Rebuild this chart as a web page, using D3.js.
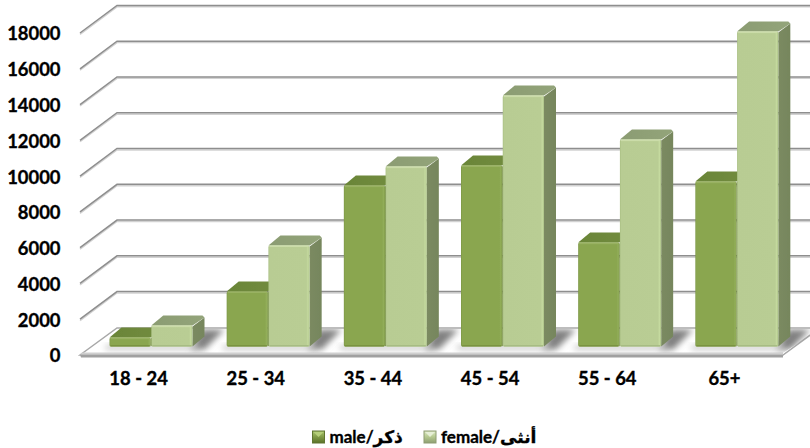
<!DOCTYPE html>
<html><head><meta charset="utf-8">
<script src="https://cdn.jsdelivr.net/npm/d3@7/dist/d3.min.js"></script>
<style>html,body{margin:0;background:#fff}svg{display:block}text{font-family:Lato,"DejaVu Sans",sans-serif;font-weight:700;fill:#000;stroke:#000;stroke-width:.35px}</style>
</head><body><svg id="c" width="810" height="448"></svg>
<script>
const categories = ["18 - 24","25 - 34","35 - 44","45 - 54","55 - 64","65+"];
const maleValues = [500,3080,9000,10120,5810,9220];
const femaleValues = [1170,5650,10060,14030,11570,17610];
const yTicks = [0,2000,4000,6000,8000,10000,12000,14000,16000,18000];
const seriesNames = ["male/ذكر","female/أنثى"];

const svg = d3.select("#c");
const defs = svg.append("defs");
const W = 810, H = 448;
const floorDX = 37, floorDY = 27;
const barOff = {y: 8.5};
const depth = {x: 12, y: 10};
const y = d3.scaleLinear().domain([0,18000]).range([355,33]);
const x = d3.scaleBand().domain(categories).range([80,783]);
const inner = d3.scaleBand().domain([0,1]).range([29,113]).padding(0.012);

function grad(id, stops, horiz){
  const g = defs.append("linearGradient").attr("id",id).attr("x1",0).attr("y1",0)
    .attr("x2",horiz?1:0).attr("y2",horiz?0:1);
  stops.forEach(s=>g.append("stop").attr("offset",s[0]).attr("stop-color",s[1]));
}
grad("mf",[[0,"#7c9646"],[.03,"#8aa650"],[.93,"#8aa650"],[.97,"#93af5a"],[1,"#7b9545"]],true);
grad("ff",[[0,"#a8be82"],[.03,"#b8cc93"],[.92,"#b9cd94"],[.96,"#c5da9f"],[1,"#a9bf85"]],true);
grad("mt",[[0,"#6a8538"],[1,"#728c3f"]],true);
grad("ft",[[0,"#8b9c72"],[1,"#93a47a"]],true);
grad("ms",[[0,"#688133"],[1,"#6f883d"]],true);
grad("fs",[[0,"#7b8a62"],[1,"#76865c"]],true);
grad("lm",[[0,"#a9c56c"],[.5,"#7f9a45"],[1,"#5b7228"]],false);
grad("lf",[[0,"#dbe8c2"],[.5,"#b4c88e"],[1,"#8e9e72"]],false);
defs.append("filter").attr("id","blur").attr("x","-40%").attr("y","-80%").attr("width","180%").attr("height","260%")
  .append("feGaussianBlur").attr("stdDeviation",3.4);
defs.append("filter").attr("id","soft").attr("x","-10%").attr("y","-10%").attr("width","120%").attr("height","120%")
  .append("feGaussianBlur").attr("stdDeviation",0.45);

const pts = a => a.map(p=>p.join(",")).join(" ");

// gridlines on wall
const gridVals = yTicks.filter(d=>d>0);
const grid = svg.append("g");
gridVals.forEach(v=>{
  const yy = y(v);
  const line = `M${x.range()[0]},${yy}L${x.range()[0]+floorDX},${yy-floorDY-0.6}L${W},${yy-floorDY-0.6}`;
  grid.append("path").attr("d",line).attr("transform","translate(0,1.4)").attr("fill","none").attr("stroke","#d2d2d2").attr("stroke-width",1.5);
  grid.append("path").attr("d",line).attr("fill","none").attr("stroke","#8e8e8e").attr("stroke-width",1.5);
});

// floor
const fy = y(0), fl = x.range()[0], fr = x.range()[1];
svg.append("polygon").attr("points",pts([[fl,fy],[fl+floorDX,fy-floorDY],[W+10,fy-floorDY],[fr,fy]]))
  .attr("fill","#fff").attr("stroke","#a8a8a8").attr("stroke-width",1.5);
svg.append("polygon").attr("points",pts([[fl,fy-.5],[fr,fy-.5],[fr,fy+2.5],[fl+1,fy+2.5]])).attr("fill","#a0a0a0");
svg.append("polygon").attr("points",pts([[fl+2,fy-2.5],[fr,fy-2.5],[fr,fy-.5],[fl,fy-.5]])).attr("fill","#cfcfcf");

const barW = inner.bandwidth();
const px = (c,i) => x(c)+inner(i);

// shadows on floor, one per group
const floorClip = defs.append("clipPath").attr("id","fc");
floorClip.append("polygon").attr("points",pts([[fl,fy-2],[fl+floorDX,fy-floorDY+1],[W+10,fy-floorDY+1],[fr,fy-2]]));
const sh = svg.append("g").attr("clip-path","url(#fc)");
sh.selectAll("polygon").data(categories).join("polygon")
  .attr("filter","url(#blur)").attr("fill","#808080")
  .attr("points",c=>{
    const r = px(c,1)+barW, b = fy-barOff.y;
    return pts([[r-2,b+3],[r+12,b+3],[r+32,b-17],[r+10,b-17]]);
  });
sh.selectAll("rect").data(categories).join("rect")
  .attr("filter","url(#blur)").attr("fill","#bdbdbd")
  .attr("x",c=>px(c,0)-4).attr("y",fy-barOff.y-1).attr("width",barW*2+10).attr("height",4);

// bars
const series = [
  {vals:maleValues, front:"url(#mf)", top:"url(#mt)", side:"url(#ms)"},
  {vals:femaleValues, front:"url(#ff)", top:"url(#ft)", side:"url(#fs)"}
];
series.forEach((s,i)=>{
  const g = svg.append("g").attr("filter","url(#soft)");
  const d = categories.map((c,k)=>({c,v:s.vals[k]}));
  const base = fy-barOff.y;
  const X = e=>px(e.c,i), T = e=>y(e.v)-barOff.y;
  g.selectAll(".side").data(d).join("polygon").attr("class","side")
    .attr("fill",s.side).attr("points",e=>pts([[X(e)+barW,T(e)+1],[X(e)+barW+depth.x,T(e)-depth.y+2],[X(e)+barW+depth.x,base-depth.y],[X(e)+barW,base]]));
  g.selectAll(".top").data(d).join("polygon").attr("class","top")
    .attr("fill",s.top).attr("points",e=>pts([[X(e),T(e)],[X(e)+depth.x,T(e)-depth.y],[X(e)+barW+depth.x-2,T(e)-depth.y],[X(e)+barW+depth.x,T(e)-depth.y+2],[X(e)+barW,T(e)]]));
  g.selectAll(".front").data(d).join("rect").attr("class","front")
    .attr("x",X).attr("y",T).attr("width",barW).attr("height",e=>base-T(e))
    .attr("rx",1.5).attr("fill",s.front);
  g.selectAll(".hl").data(d).join("rect").attr("class","hl")
    .attr("x",e=>X(e)+1).attr("y",e=>T(e)).attr("width",barW-2).attr("height",1.6)
    .attr("fill",i?"#cbdca9":"#99b262");
  g.selectAll(".lo").data(d).join("rect").attr("class","lo")
    .attr("x",e=>X(e)+1).attr("y",base-1.4).attr("width",barW-2).attr("height",1.4)
    .attr("fill",i?"#a6bb82":"#78923f");
});

// axis labels
const yAxis = d3.axisLeft(y).tickValues(yTicks).tickFormat(d3.format("d")).tickSize(0).tickPadding(0);
const ya = svg.append("g").attr("transform","translate(60.5,1)").call(yAxis);
ya.select(".domain").remove();
ya.selectAll("text").attr("font-size",18.4).style("font-family","Lato,'DejaVu Sans',sans-serif");

const xAxis = d3.axisBottom(x).tickSize(0).tickPadding(0);
const xa = svg.append("g").attr("transform","translate(0,372)").call(xAxis);
xa.select(".domain").remove();
xa.selectAll("text").attr("font-size",18.4).style("font-family","Lato,'DejaVu Sans',sans-serif");

// legend
const legendX = [312.5,424];
const lg = svg.append("g").selectAll("g").data(seriesNames).join("g").attr("transform",(d,i)=>`translate(${legendX[i]},431)`);
lg.append("rect").attr("width",12).attr("height",12).attr("fill",(d,i)=>i?"url(#lf)":"url(#lm)").attr("stroke",(d,i)=>i?"#8d9c72":"#5f7530").attr("stroke-width",1);
lg.append("polygon").attr("points",pts([[1,1],[11,1],[6,6]])).attr("fill",(d,i)=>i?"#e6efd6":"#b5cf79");
lg.append("text").attr("x",17).attr("y",12).attr("font-size",17).attr("direction","ltr").text(d=>d);
</script></body></html>
